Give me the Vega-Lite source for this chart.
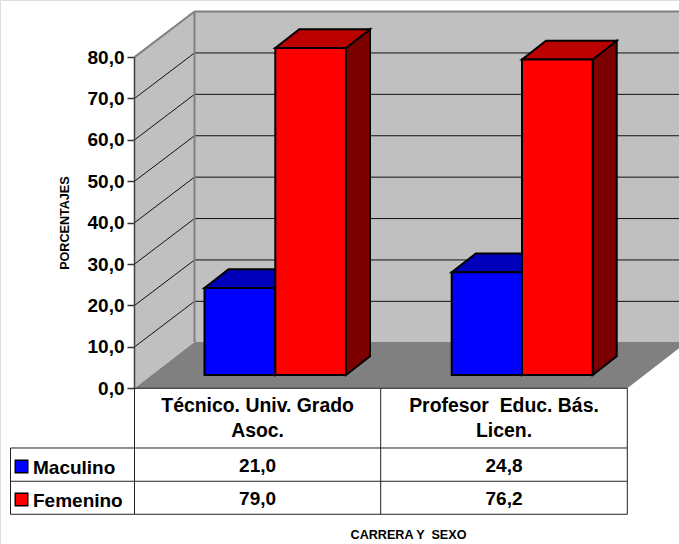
{"$schema":"https://vega.github.io/schema/vega-lite/v6.json","width":679,"height":544,"autosize":"none","padding":0,"background":"white",
"encoding":{"x":{"field":"x","type":"quantitative","scale":{"domain":[0,679],"nice":false,"zero":false},"axis":null},
"y":{"field":"y","type":"quantitative","scale":{"domain":[-37.61,93.79],"nice":false,"zero":false},
"axis":{"title":null,"orient":"left","offset":-135,"values":[0,10,20,30,40,50,60,70,80],"domain":false,"grid":false,"tickSize":8,"tickWidth":1.5,"tickColor":"#333333","labelExpr":"replace(format(datum.value,'.1f'),'.',',')","labelFont":"Liberation Sans","labelFontWeight":"bold","labelFontSize":19,"labelColor":"black","labelPadding":3}}},
"layer":[
{"data":{"values":[{"x":194.5,"x2":679,"y":91,"y2":11.2}]},"mark":{"type":"rect","fill":"#C0C0C0"},"encoding":{"x2":{"field":"x2"},"y2":{"field":"y2"}}},
{"data":{"values":[{"x":134.5,"y":80,"y2":0},{"x":194.5,"y":91,"y2":11.2}]},"mark":{"type":"area","fill":"#C0C0C0","opacity":1},"encoding":{"y2":{"field":"y2"}}},
{"data":{"values":[{"y":11.2,"x":194.5,"x2":687.3},{"y":0,"x":134.5,"x2":627.3}]},"mark":{"type":"area","orient":"horizontal","fill":"#808080","opacity":1,"clip":true},"encoding":{"x2":{"field":"x2"}}},
{"data":{"values":[
{"x":134.5,"x2":194.5,"y":10,"y2":21},{"x":194.5,"x2":679,"y":21,"y2":21},
{"x":134.5,"x2":194.5,"y":20,"y2":31},{"x":194.5,"x2":679,"y":31,"y2":31},
{"x":134.5,"x2":194.5,"y":30,"y2":41},{"x":194.5,"x2":679,"y":41,"y2":41},
{"x":134.5,"x2":194.5,"y":40,"y2":51},{"x":194.5,"x2":679,"y":51,"y2":51},
{"x":134.5,"x2":194.5,"y":50,"y2":61},{"x":194.5,"x2":679,"y":61,"y2":61},
{"x":134.5,"x2":194.5,"y":60,"y2":71},{"x":194.5,"x2":679,"y":71,"y2":71},
{"x":134.5,"x2":194.5,"y":70,"y2":81},{"x":194.5,"x2":679,"y":81,"y2":81}]},
"mark":{"type":"rule","stroke":"#111111","strokeWidth":1},"encoding":{"x2":{"field":"x2"},"y2":{"field":"y2"}}},
{"data":{"values":[{"x":134.5,"x2":194.5,"y":80,"y2":91},{"x":194.5,"x2":679,"y":91,"y2":91},{"x":194.5,"x2":194.5,"y":91,"y2":11.2}]},
"mark":{"type":"rule","stroke":"#808080","strokeWidth":2},"encoding":{"x2":{"field":"x2"},"y2":{"field":"y2"}}},
{"data":{"values":[{"x":134.5,"x2":134.5,"y":80,"y2":0}]},"mark":{"type":"rule","stroke":"#404040","strokeWidth":1.5},"encoding":{"x2":{"field":"x2"},"y2":{"field":"y2"}}},
{"data":{"values":[
{"carrera":"Técnico","sexo":"Maculino","x":275.3,"y":24.21,"y2":3.21},{"carrera":"Técnico","sexo":"Maculino","x":299.3,"y":28.73,"y2":7.73},
{"carrera":"Técnico","sexo":"Femenino","x":346,"y":82.21,"y2":3.21},{"carrera":"Técnico","sexo":"Femenino","x":370,"y":86.73,"y2":7.73},
{"carrera":"Profesor","sexo":"Maculino","x":522,"y":28.01,"y2":3.21},{"carrera":"Profesor","sexo":"Maculino","x":546,"y":32.53,"y2":7.73},
{"carrera":"Profesor","sexo":"Femenino","x":592.7,"y":79.41,"y2":3.21},{"carrera":"Profesor","sexo":"Femenino","x":616.7,"y":83.93,"y2":7.73}]},
"mark":{"type":"area","opacity":1,"stroke":"black","strokeWidth":2},
"encoding":{"y2":{"field":"y2"},"detail":{"field":"carrera"},"color":{"field":"sexo","type":"nominal","legend":null,"scale":{"domain":["Maculino","Femenino"],"range":["#000080","#7D0000"]}}}},
{"data":{"values":[
{"carrera":"Técnico","sexo":"Maculino","y":24.21,"x":204.5,"x2":275.3},{"carrera":"Técnico","sexo":"Maculino","y":28.73,"x":228.5,"x2":299.3},
{"carrera":"Técnico","sexo":"Femenino","y":82.21,"x":275.3,"x2":346},{"carrera":"Técnico","sexo":"Femenino","y":86.73,"x":299.3,"x2":370},
{"carrera":"Profesor","sexo":"Maculino","y":28.01,"x":451.7,"x2":522},{"carrera":"Profesor","sexo":"Maculino","y":32.53,"x":475.7,"x2":546},
{"carrera":"Profesor","sexo":"Femenino","y":79.41,"x":522,"x2":592.7},{"carrera":"Profesor","sexo":"Femenino","y":83.93,"x":546,"x2":616.7}]},
"mark":{"type":"area","orient":"horizontal","opacity":1,"stroke":"black","strokeWidth":2},
"encoding":{"x2":{"field":"x2"},"detail":{"field":"carrera"},"color":{"field":"sexo","type":"nominal","legend":null,"scale":{"domain":["Maculino","Femenino"],"range":["#0000BB","#BB0000"]}}}},
{"data":{"values":[
{"carrera":"Técnico. Univ. Grado Asoc.","sexo":"Maculino","valor":21.0,"x":204.5,"x2":275.3},
{"carrera":"Profesor  Educ. Bás. Licen.","sexo":"Maculino","valor":24.8,"x":451.7,"x2":522},
{"carrera":"Técnico. Univ. Grado Asoc.","sexo":"Femenino","valor":79.0,"x":275.3,"x2":346},
{"carrera":"Profesor  Educ. Bás. Licen.","sexo":"Femenino","valor":76.2,"x":522,"x2":592.7}]},
"mark":{"type":"rect","stroke":"black","strokeWidth":2,"yOffset":-13.3,"y2Offset":-13.3},
"encoding":{"x2":{"field":"x2"},"y":{"field":"valor","type":"quantitative","scale":{"domain":[-37.61,93.79],"nice":false,"zero":false}},"y2":{"datum":0},"color":{"field":"sexo","type":"nominal","legend":null,"scale":{"domain":["Maculino","Femenino"],"range":["#0000FF","#FF0000"]}}}},
{"data":{"values":[
{"x":134.5,"x2":627.3,"y":0,"y2":0},{"x":134.5,"x2":134.5,"y":0,"y2":-30.43},
{"x":380.7,"x2":380.7,"y":0,"y2":-30.43},{"x":627.3,"x2":627.3,"y":0,"y2":-30.43},
{"x":10.5,"x2":10.5,"y":-14.42,"y2":-30.43},
{"x":10.5,"x2":627.3,"y":-14.42,"y2":-14.42},{"x":10.5,"x2":627.3,"y":-22.46,"y2":-22.46},{"x":10.5,"x2":627.3,"y":-30.43,"y2":-30.43}]},
"mark":{"type":"rule","stroke":"#222222","strokeWidth":1},"encoding":{"x2":{"field":"x2"},"y2":{"field":"y2"}}},
{"data":{"values":[{"sexo":"Maculino","x":21.5,"y":-18.89},{"sexo":"Femenino","x":21.5,"y":-26.86}]},
"mark":{"type":"square","size":156,"opacity":1,"stroke":"black","strokeWidth":1.5},
"encoding":{"color":{"field":"sexo","type":"nominal","legend":null,"scale":{"domain":["Maculino","Femenino"],"range":["#0000FF","#FF0000"]}}}},
{"data":{"values":[
{"texto":"Técnico. Univ. Grado\nAsoc.","x":257.6,"y":-5.8},{"texto":"Profesor \u00a0Educ. Bás.\nLicen.","x":504,"y":-5.8}]},
"mark":{"type":"text","align":"center","baseline":"alphabetic","font":"Liberation Sans","fontWeight":"bold","fontSize":19.4,"lineBreak":"\n","lineHeight":25,"fill":"black"},
"encoding":{"text":{"field":"texto"}}},
{"data":{"values":[
{"texto":"21,0","x":257.6,"y":-20.2},{"texto":"24,8","x":504,"y":-20.2},
{"texto":"79,0","x":257.6,"y":-28.19},{"texto":"76,2","x":504,"y":-28.19}]},
"mark":{"type":"text","align":"center","baseline":"alphabetic","font":"Liberation Sans","fontWeight":"bold","fontSize":19,"fill":"black"},
"encoding":{"text":{"field":"texto"}}},
{"data":{"values":[{"texto":"Maculino","x":33,"y":-20.7},{"texto":"Femenino","x":33,"y":-28.67}]},
"mark":{"type":"text","align":"left","baseline":"alphabetic","font":"Liberation Sans","fontWeight":"bold","fontSize":19,"fill":"black"},
"encoding":{"text":{"field":"texto"}}},
{"data":{"values":[{"texto":"PORCENTAJES","x":65,"y":39.9}]},
"mark":{"type":"text","align":"center","baseline":"middle","angle":270,"font":"Liberation Sans","fontWeight":"bold","fontSize":12.6,"fill":"black"},
"encoding":{"text":{"field":"texto"}}},
{"data":{"values":[{"texto":"CARRERA Y \u00a0SEXO","x":408.5,"y":-36.4}]},
"mark":{"type":"text","align":"center","baseline":"alphabetic","font":"Liberation Sans","fontWeight":"bold","fontSize":12.6,"fill":"black"},
"encoding":{"text":{"field":"texto"}}}
],
"resolve":{"scale":{"color":"independent"}}}
